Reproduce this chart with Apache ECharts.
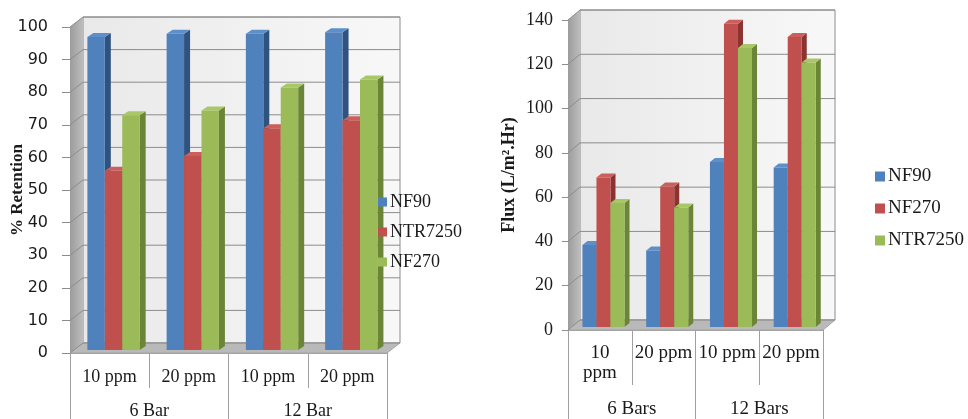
<!DOCTYPE html>
<html>
<head>
<meta charset="utf-8">
<script src="https://cdn.jsdelivr.net/npm/echarts@6/dist/echarts.min.js"></script>
<style>
html, body { margin: 0; padding: 0; background: #fff; }
#wrap { width: 968px; height: 419px; position: relative; }
#left { position: absolute; left: 0; top: 0; width: 484px; height: 419px; }
#right { position: absolute; left: 484px; top: 0; width: 484px; height: 419px; }
</style>
</head>
<body>
<div id="wrap"><div id="left"></div><div id="right"></div></div>
<script>
// retention chart (left)
var retCats = ["10 ppm", "20 ppm", "10 ppm", "20 ppm"];
var retGroups = ["6 Bar", "12 Bar"];
var retNames = ["NF90", "NTR7250", "NF270"];
var retNF90 = [96, 97, 97, 97.5];
var retNTR7250 = [55, 59.5, 68, 70.5];
var retNF270 = [72, 73.5, 80.5, 83];
var retTicks = [0, 10, 20, 30, 40, 50, 60, 70, 80, 90, 100];

// flux chart (right)
var fluxCats = ["10\nppm", "20 ppm", "10 ppm", "20 ppm"];
var fluxGroups = ["6 Bars", "12 Bars"];
var fluxNames = ["NF90", "NF270", "NTR7250"];
var fluxNF90 = [37, 34.5, 74.5, 72];
var fluxNF270 = [67.5, 63.5, 137, 131];
var fluxNTR7250 = [56, 54, 126, 119.5];
var fluxTicks = [0, 20, 40, 60, 80, 100, 120, 140];

var fronts = ["#4F81BD", "#C0504D", "#9BBB59"];
var sides = ["#30527f", "#8a3331", "#6b8537"];
var tops = ["#5d8fcb", "#cc5f5c", "#a8c766"];
var gridColor = "#8c8c8c";

function build(el, cfg) {
    var chart = echarts.init(document.getElementById(el));
    var dx = cfg.depth[0], dy = cfg.depth[1];
    var yMax = cfg.ticks[cfg.ticks.length - 1];

    function walls(params, api) {
        var cs = params.coordSys;
        var x0 = cs.x, x1 = cs.x + cs.width;
        var yT = api.coord([0, yMax])[1], yB = api.coord([0, 0])[1];
        var kids = [];
        kids.push({
            type: "polygon",
            shape: { points: [[x0 + dx, yT + dy], [x1 + dx, yT + dy], [x1 + dx, yB + dy], [x0 + dx, yB + dy]] },
            style: {
                fill: new echarts.graphic.LinearGradient(0, 0, 1, 0, [
                    { offset: 0, color: "#e9e9e9" },
                    { offset: 1, color: "#f8f8f8" },
                ]),
                stroke: gridColor, lineWidth: 1,
            },
        });
        kids.push({
            type: "polygon",
            shape: { points: [[x0, yT], [x0 + dx, yT + dy], [x0 + dx, yB + dy], [x0, yB]] },
            style: {
                fill: new echarts.graphic.LinearGradient(0, 0, 1, 0, [
                    { offset: 0, color: "#9c9c9c" },
                    { offset: 1, color: "#bdbdbd" },
                ]),
            },
        });
        kids.push({
            type: "polygon",
            shape: { points: [[x0, yB], [x0 + dx, yB + dy], [x1 + dx, yB + dy], [x1, yB]] },
            style: { fill: "#b9b9b9", stroke: "#a5a5a5", lineWidth: 1 },
        });
        cfg.ticks.forEach(function (v) {
            var y = api.coord([0, v])[1];
            kids.push({
                type: "polyline",
                shape: { points: [[x0, y], [x0 + dx, y + dy], [x1 + dx, y + dy]] },
                style: { stroke: gridColor, fill: null, lineWidth: 1 },
            });
        });
        return { type: "group", children: kids };
    }

    function bars(k) {
        return function (params, api) {
            var cs = params.coordSys;
            var c = api.value(0), v = api.value(1);
            var base = api.coord([c, 0]), top = api.coord([c, v]);
            var bw = cs.width / cfg.cats.length;
            var w = bw * cfg.barRatio;
            var xl = base[0] - 1.5 * w + k * w + dx * 0.3;
            var xr = xl + w;
            var yb = base[1] + dy * 0.3, yt = top[1] + dy * 0.3;
            var bx = cfg.barDepth[0], by = cfg.barDepth[1];
            return {
                type: "group",
                children: [
                    { type: "polygon", shape: { points: [[xr, yb], [xr + bx, yb + by], [xr + bx, yt + by], [xr, yt]] }, style: { fill: sides[k] } },
                    { type: "polygon", shape: { points: [[xl, yt], [xr, yt], [xr + bx, yt + by], [xl + bx, yt + by]] }, style: { fill: tops[k] } },
                    { type: "rect", shape: { x: xl, y: yt, width: w, height: yb - yt }, style: { fill: fronts[k] } },
                ],
            };
        };
    }

    var series = [{
        type: "custom",
        renderItem: walls,
        data: [[0, 0]],
        clip: false,
        silent: true,
        z: 1,
    }];
    cfg.values.forEach(function (vals, k) {
        series.push({
            name: cfg.names[k],
            type: "custom",
            renderItem: bars(k),
            itemStyle: { color: fronts[k] },
            data: vals.map(function (v, c) { return [c, v]; }),
            clip: false,
            z: 2,
        });
    });

    var grid = Object.assign({ outerBoundsMode: "none", containLabel: false }, cfg.grid);

    chart.setOption({
        animation: false,
        grid: grid,
        legend: {
            orient: "vertical",
            left: cfg.legend.left,
            top: cfg.legend.top,
            padding: 0,
            icon: "rect",
            itemWidth: cfg.legend.icon,
            itemHeight: cfg.legend.icon,
            itemGap: cfg.legend.gap,
            textStyle: { fontFamily: "Liberation Serif", fontSize: cfg.legend.size, color: "#1a1a1a", padding: [0, 0, 0, -2] },
            data: cfg.names,
        },
        xAxis: [
            {
                type: "category",
                data: cfg.cats,
                axisLine: { lineStyle: { color: "#a0a0a0" } },
                axisTick: { show: true, length: cfg.tickLen[0], lineStyle: { color: "#a0a0a0" } },
                axisLabel: { interval: 0, margin: cfg.labelMargin[0], fontFamily: "Liberation Serif", fontSize: cfg.xFont, lineHeight: cfg.xFont + 1, color: "#1a1a1a" },
            },
            {
                type: "category",
                data: cfg.groups,
                position: "bottom",
                axisLine: { show: false },
                axisTick: { show: true, length: cfg.tickLen[1], lineStyle: { color: "#a0a0a0" } },
                axisLabel: { interval: 0, margin: cfg.labelMargin[1], fontFamily: "Liberation Serif", fontSize: cfg.xFont, color: "#1a1a1a" },
            },
        ],
        yAxis: {
            type: "value",
            min: 0,
            max: yMax,
            interval: cfg.ticks[1],
            name: cfg.yName,
            nameLocation: "middle",
            nameGap: cfg.yNameGap,
            nameMoveOverlap: false,
            nameTextStyle: { fontFamily: "Liberation Serif", fontWeight: "bold", fontSize: cfg.yNameSize, color: "#1a1a1a" },
            axisLine: { show: true, lineStyle: { color: "#8c8c8c" } },
            axisTick: { show: true, length: cfg.yTickLen, lineStyle: { color: "#8c8c8c" } },
            splitLine: { show: false },
            axisLabel: { margin: cfg.yLabelMargin, fontFamily: cfg.yFontFamily, fontSize: cfg.yFont, color: "#1a1a1a" },
        },
        series: series,
    });
    return chart;
}

build("left", {
    cats: retCats,
    groups: retGroups,
    names: retNames,
    values: [retNF90, retNTR7250, retNF270],
    ticks: retTicks,
    grid: { left: 70, top: 27, width: 317, height: 326 },
    depth: [13, -10],
    barDepth: [6, -4],
    barRatio: 0.22,
    tickLen: [35, 66],
    labelMargin: [15, 49],
    xFont: 18,
    yName: "% Retention",
    yNameGap: 44,
    yNameSize: 17,
    yTickLen: 8,
    yLabelMargin: 22,
    yFontFamily: "DejaVu Sans",
    yFont: 16,
    legend: { left: 378, top: 193, icon: 9, gap: 12, size: 18 },
});

build("right", {
    cats: fluxCats,
    groups: fluxGroups,
    names: fluxNames,
    values: [fluxNF90, fluxNF270, fluxNTR7250],
    ticks: fluxTicks,
    grid: { left: 84, top: 20, width: 255, height: 310 },
    depth: [12, -10],
    barDepth: [5, -4],
    barRatio: 0.22,
    tickLen: [55, 89],
    labelMargin: [13, 70],
    xFont: 19,
    yName: "Flux (L/m\u00b2.Hr)",
    yNameGap: 50,
    yNameSize: 18,
    yTickLen: 6,
    yLabelMargin: 15,
    yFontFamily: "Liberation Serif",
    yFont: 18,
    legend: { left: 391, top: 167, icon: 10, gap: 13, size: 19 },
});
</script>
</body>
</html>
